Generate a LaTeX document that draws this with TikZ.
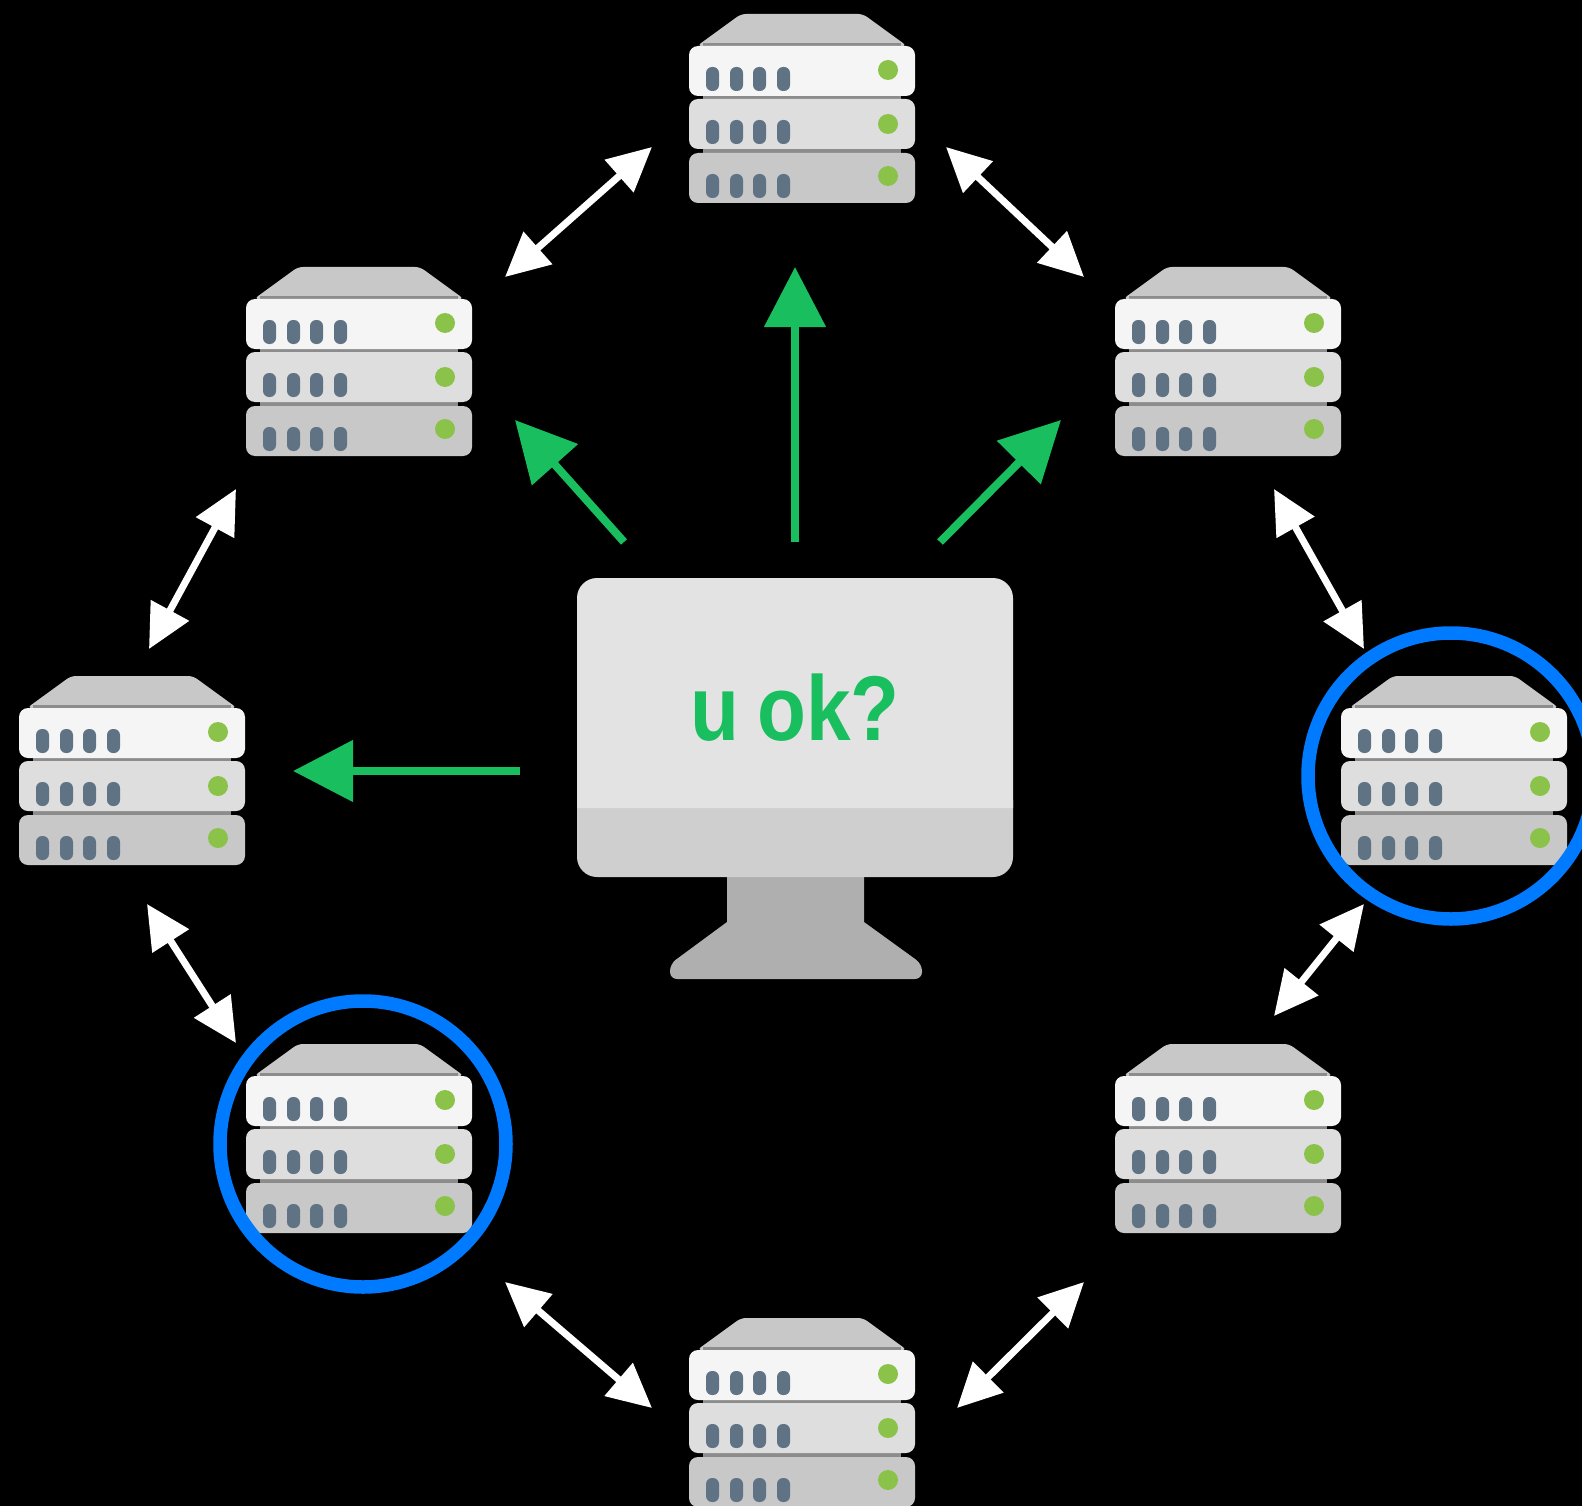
\documentclass[tikz,border=0pt]{standalone}
\usepackage{fontspec}
\setmainfont{Liberation Sans}
\newfontfamily\okfont[FakeStretch=0.87,WordSpace=0.8]{Liberation Sans}
\usetikzlibrary{arrows.meta}
\definecolor{okgreen}{HTML}{19BE5F}
\definecolor{ringblue}{HTML}{007AFF}
\definecolor{slotgray}{HTML}{5F7385}
\definecolor{ledgreen}{HTML}{8BC34A}
\definecolor{roofgray}{HTML}{C8C8C8}
\definecolor{standgray}{HTML}{AFAFAF}
\tikzset{
 greenarrow/.style={okgreen,line width=8pt,-{Triangle[length=60pt,width=60pt]}},
 whitearrow/.style={white,line width=7pt,{Triangle[length=44pt,width=42pt]}-{Triangle[length=44pt,width=42pt]}},
 bluering/.style={ringblue,line width=13.5pt},
 serverpic/.pic={
  \fill[roofgray,rounded corners=5pt] (8,32)--(52,0)--(174,0)--(218,32)--cycle;
  \fill[black!45] (14,29) rectangle (212,186);
  \foreach \ty/\col/\led in {32/white!96!black/24,85/white!87!black/25,139/roofgray/23}{
   \fill[\col,rounded corners=9pt] (0,\ty) rectangle (226,\ty+50);
   \fill[ledgreen] (199,\ty+\led) circle(10pt);
   \foreach \sx in {17,41,64,88}
    \fill[slotgray,rounded corners=6pt] (\sx,\ty+21) rectangle (\sx+13,\ty+45);
  }
 }
}
\begin{document}
\begin{tikzpicture}[x=1pt,y=-1pt,line join=round]
 \def \xmax{1582}\def \ymax{1506}
 \useasboundingbox (0,0) rectangle (\xmax,\ymax);
 \clip (0,0) rectangle (\xmax,\ymax);
 \fill[black] (0,0) rectangle (\xmax,\ymax);
 \foreach \px/\py in {689/14,246/267,1115/267,19/676,1341/676,246/1044,1115/1044,689/1318}
  \pic at (\px,\py) {serverpic};
 \fill[standgray] (727,870)--(727,922)[rounded corners=7pt]--(670,964)--(670,979)--(922,979)--(922,964)[sharp corners]--(864,922)--(864,870)--cycle;
 \fill[white!81!black,rounded corners=20pt] (577,780)--(577,877)--(1013,877)--(1013,780)--cycle;
 \fill[white!89!black,rounded corners=20pt] (577,808)--(577,578)--(1013,578)--(1013,808);
 \fill[white!89!black] (577,790) rectangle (1013,808);
 \node[okgreen,font=\fontsize{92}{92}\selectfont\okfont\bfseries,anchor=base] (uok) at (795,740) {u ok?};
 \coordinate (gs1) at (795,542); \coordinate (ge1) at (795,267);
 \coordinate (gs2) at (624,542); \coordinate (ge2) at (515,420);
 \coordinate (gs3) at (940,542); \coordinate (ge3) at (1061,420);
 \coordinate (gs4) at (520,771); \coordinate (ge4) at (293,771);
 \foreach \i in {1,2,3,4}
  \draw[greenarrow] (gs\i)--(ge\i);
 \coordinate (ws1) at (505,277); \coordinate (we1) at (652,147);
 \coordinate (ws2) at (946,147); \coordinate (we2) at (1084,277);
 \coordinate (ws3) at (149,649); \coordinate (we3) at (236,489);
 \coordinate (ws4) at (1274,489); \coordinate (we4) at (1364,649);
 \coordinate (ws5) at (147,904); \coordinate (we5) at (236,1043);
 \coordinate (ws6) at (1274,1016); \coordinate (we6) at (1364,904);
 \coordinate (ws7) at (505,1282); \coordinate (we7) at (652,1408);
 \coordinate (ws8) at (957,1408); \coordinate (we8) at (1084,1282);
 \foreach \i in {1,...,8}
  \draw[whitearrow] (ws\i)--(we\i);
 \draw[bluering] (1451,776) circle(143pt);
 \draw[bluering] (363,1144) circle(143pt);
\end{tikzpicture}
\end{document}
